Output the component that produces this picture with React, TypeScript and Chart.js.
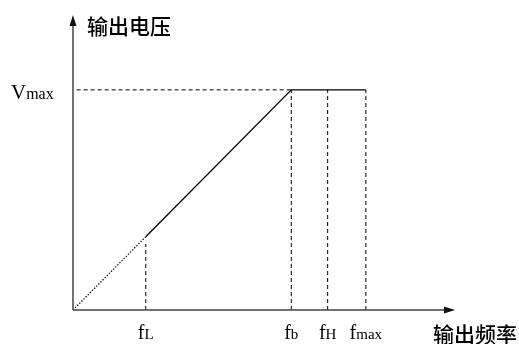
import React, { useEffect, useRef } from "react";
import { Chart, registerables } from "chart.js";

Chart.register(...registerables);

// Frequency ticks (relative units): fL, fb, fH, fmax
const freqTicks = [20, 60, 70, 80.5];
const freqMain = ["f", "f", "f", "f"];
const freqSub = ["L", "b", "H", "max"];
// Voltage tick
const voltTicks = [100];
const voltMain = ["V"];
const voltSub = ["max"];
// V/f curve
const dottedX = [0, 20];
const dottedY = [0, 33.3];
const curveX = [20, 60, 80.5];
const curveY = [33.3, 100, 100];
// dashed guide tops
const guideTops = [30, 100, 100, 100];
const xMax = 105;
const yMax = 134;
const xTitle = "输出频率";
const yTitle = "输出电压";

const pts = (xs: number[], ys: number[]) => xs.map((x, i) => ({ x, y: ys[i] }));

const overlay = {
  id: "overlay",
  afterDraw(chart: any) {
    const { ctx, chartArea, scales } = chart;
    const x0 = chartArea.left;
    const y0 = chartArea.bottom;
    const xEnd = chartArea.right;
    const yEnd = chartArea.top;
    ctx.save();
    // axes
    ctx.strokeStyle = "#444";
    ctx.fillStyle = "#111";
    ctx.lineWidth = 1.5;
    ctx.beginPath();
    ctx.moveTo(x0, y0);
    ctx.lineTo(xEnd - 6, y0);
    ctx.moveTo(x0, y0);
    ctx.lineTo(x0, yEnd + 6);
    ctx.stroke();
    // arrowheads
    ctx.beginPath();
    ctx.moveTo(xEnd, y0);
    ctx.lineTo(xEnd - 11, y0 - 3.5);
    ctx.lineTo(xEnd - 11, y0 + 3.5);
    ctx.closePath();
    ctx.fill();
    ctx.beginPath();
    ctx.moveTo(x0, yEnd);
    ctx.lineTo(x0 - 3.5, yEnd + 11);
    ctx.lineTo(x0 + 3.5, yEnd + 11);
    ctx.closePath();
    ctx.fill();

    // tick labels (main + subscript)
    const mainFont = "20px 'Liberation Serif', serif";
    const subFont = "15px 'Liberation Serif', serif";
    ctx.fillStyle = "#000";
    ctx.textBaseline = "alphabetic";
    ctx.textAlign = "left";
    freqTicks.forEach((v, i) => {
      const px = scales.x.getPixelForValue(v);
      ctx.font = mainFont;
      const w1 = ctx.measureText(freqMain[i]).width;
      ctx.font = subFont;
      const w2 = ctx.measureText(freqSub[i]).width;
      const left = px - (w1 + w2) / 2;
      ctx.font = mainFont;
      ctx.fillText(freqMain[i], left, 339);
      ctx.font = subFont;
      ctx.fillText(freqSub[i], left + w1, 339);
    });
    voltTicks.forEach((v, i) => {
      const py = scales.y.getPixelForValue(v);
      const vFont = "21px 'Liberation Serif', serif";
      const sFont = "16px 'Liberation Serif', serif";
      ctx.font = vFont;
      ctx.fillText(voltMain[i], 11, py + 9);
      const w1 = ctx.measureText(voltMain[i]).width;
      ctx.font = sFont;
      ctx.fillText(voltSub[i], 11 + w1, py + 9);
    });

    // axis titles
    ctx.font = "500 21px 'Noto Sans CJK SC', sans-serif";
    ctx.textBaseline = "middle";
    ctx.fillText(yTitle, 87, 26);
    ctx.fillText(xTitle, 433, 334);
    ctx.restore();
  },
};

export default function App() {
  const ref = useRef<HTMLCanvasElement | null>(null);
  useEffect(() => {
    if (!ref.current) return;
    const dash = [4, 3];
    const guides = freqTicks.map((f, i) => ({
      data: [
        { x: f, y: 0 },
        { x: f, y: guideTops[i] },
      ],
      borderColor: "#000",
      borderWidth: 1,
      borderDash: dash,
      showLine: true,
      pointRadius: 0,
    }));
    const chart = new Chart(ref.current, {
      type: "scatter",
      data: {
        datasets: [
          {
            data: pts(dottedX, dottedY),
            borderColor: "#000",
            borderWidth: 1.3,
            borderDash: [1.3, 1.7],
            showLine: true,
            pointRadius: 0,
          },
          {
            data: pts(curveX, curveY),
            borderColor: "#000",
            borderWidth: 1.3,
            showLine: true,
            pointRadius: 0,
          },
          {
            data: [
              { x: 1, y: voltTicks[0] },
              { x: freqTicks[1], y: voltTicks[0] },
            ],
            borderColor: "#000",
            borderWidth: 1,
            borderDash: dash,
            showLine: true,
            pointRadius: 0,
          },
          ...guides,
        ] as any,
      },
      options: {
        responsive: false,
        animation: false,
        devicePixelRatio: 1,
        layout: { padding: { left: 73, right: 64, top: 15, bottom: 34 } },
        plugins: { legend: { display: false }, tooltip: { enabled: false } },
        scales: {
          x: { type: "linear", min: 0, max: xMax, display: false },
          y: { type: "linear", min: 0, max: yMax, display: false },
        },
      } as any,
      plugins: [overlay],
    });
    return () => chart.destroy();
  }, []);
  return (
    <div style={{ position: "absolute", left: 0, top: 0, width: 519, height: 344, background: "#fff" }}>
      <canvas ref={ref} width={519} height={344} />
    </div>
  );
}
